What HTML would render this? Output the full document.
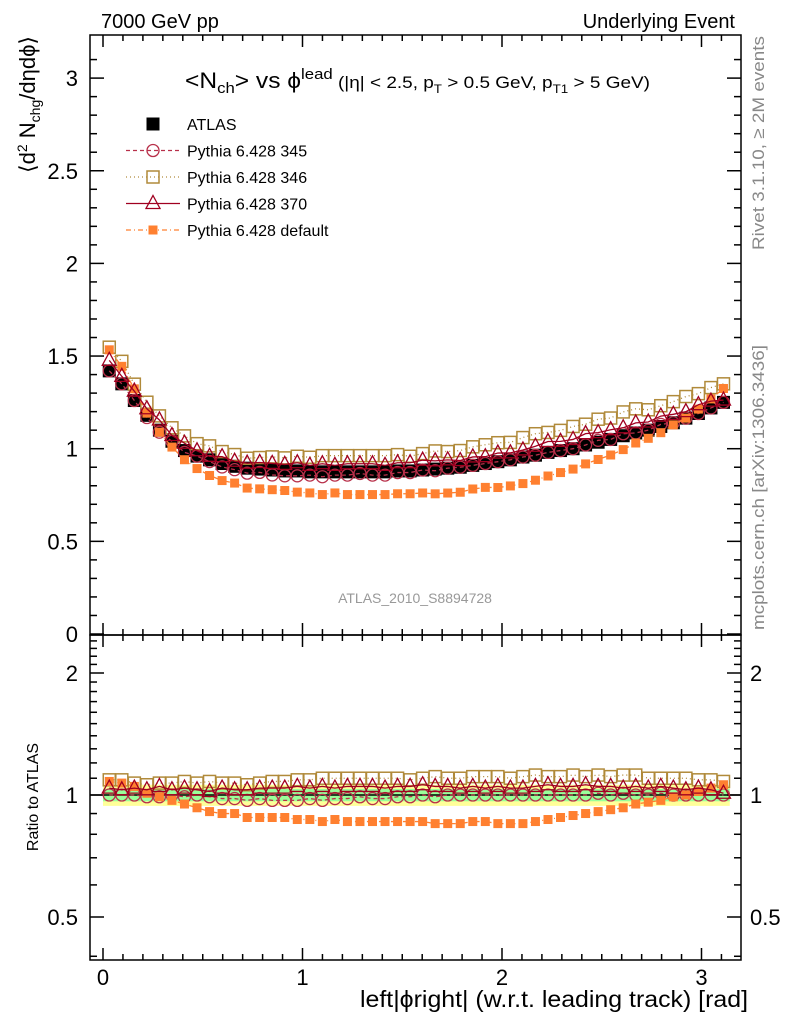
<!DOCTYPE html>
<html><head><meta charset="utf-8"><style>
body{margin:0;background:#fff;}
svg{display:block;font-family:"Liberation Sans",sans-serif;}
</style></head><body>
<svg id="c" width="786" height="1024" xmlns="http://www.w3.org/2000/svg"></svg>
<script>
const atlas=[1.42,1.35,1.26,1.18,1.10,1.04,0.99,0.96,0.94,0.92,0.905,0.895,0.89,0.885,0.88,0.88,0.875,0.875,0.875,0.875,0.875,0.875,0.875,0.88,0.88,0.885,0.89,0.895,0.90,0.91,0.92,0.93,0.94,0.955,0.965,0.98,0.99,1.00,1.02,1.035,1.05,1.07,1.085,1.10,1.12,1.14,1.165,1.19,1.22,1.25];
const ratio345=[1.0,1.0,1.0,0.99,0.99,1.0,0.99,1.0,0.99,0.98,0.98,0.97,0.98,0.97,0.97,0.97,0.98,0.97,0.98,0.98,0.99,0.98,0.98,0.99,0.99,1.0,0.99,1.0,1.0,1.0,1.0,1.0,1.0,1.0,1.0,1.0,1.0,1.0,1.0,1.01,1.0,1.01,1.0,1.0,1.01,1.0,1.0,1.0,1.0,1.0];
const ratio346=[1.09,1.09,1.07,1.06,1.07,1.07,1.08,1.07,1.08,1.07,1.07,1.06,1.07,1.08,1.08,1.09,1.09,1.10,1.10,1.10,1.10,1.10,1.10,1.10,1.09,1.10,1.11,1.10,1.10,1.11,1.11,1.11,1.10,1.11,1.12,1.11,1.11,1.12,1.11,1.12,1.11,1.12,1.12,1.10,1.10,1.10,1.10,1.09,1.09,1.08];
const ratio370=[1.04,1.03,1.04,1.03,1.05,1.03,1.04,1.03,1.02,1.04,1.03,1.03,1.04,1.04,1.04,1.05,1.04,1.05,1.04,1.05,1.05,1.05,1.04,1.05,1.05,1.06,1.05,1.05,1.04,1.05,1.04,1.05,1.04,1.04,1.05,1.06,1.05,1.05,1.06,1.05,1.05,1.04,1.05,1.04,1.05,1.04,1.03,1.04,1.03,1.01];
const ratioDef=[1.08,1.07,1.05,1.01,0.99,0.97,0.95,0.93,0.91,0.90,0.90,0.88,0.88,0.88,0.88,0.87,0.87,0.86,0.87,0.86,0.86,0.86,0.86,0.86,0.86,0.86,0.85,0.85,0.85,0.86,0.86,0.85,0.85,0.85,0.86,0.87,0.88,0.89,0.90,0.91,0.92,0.93,0.95,0.96,0.97,0.99,1.00,1.02,1.04,1.06];
const bandOuter=0.06, bandInner=0.035;
const xTicks=[0,1,2,3], yTicks=[0,0.5,1,1.5,2,2.5,3], rTicks=[0.5,1,2];

const NS="http://www.w3.org/2000/svg", svg=document.getElementById('c');
function el(t,a,p){const e=document.createElementNS(NS,t);for(const k in a)e.setAttribute(k,a[k]);(p||svg).appendChild(e);return e;}
const L=90,R=741,T=35,M=635,B=960;
const X=v=>103+199.5*v, Y=v=>634-185.3*v, RY=r=>795-122*Math.log2(r);
const N=atlas.length, xc=i=>(i+0.5)*Math.PI/N;

const band=el('g',{});

el('rect',{x:X(0),y:RY(1+bandOuter),width:X(Math.PI)-X(0),height:RY(1-bandOuter)-RY(1+bandOuter),fill:'#ffff99'},band);
el('rect',{x:X(0),y:RY(1+bandInner),width:X(Math.PI)-X(0),height:RY(1-bandInner)-RY(1+bandInner),fill:'#99ff99'},band);
el('line',{x1:L,x2:R,y1:RY(1),y2:RY(1),stroke:'#000','stroke-width':1.5},band);

const fr=el('g',{fill:'none',stroke:'#000','stroke-width':1.5});

el('rect',{x:L,y:T,width:R-L,height:M-T},fr);el('rect',{x:L,y:M,width:R-L,height:B-M},fr);
for(let v=0;v<=3.15;v+=0.1){const maj=Math.abs(v-Math.round(v))<1e-6;const h=maj?12:6;const x=X(v);
 for(const [y0,d] of [[M,-1],[T,1],[B,-1],[M,1]]) el('line',{x1:x,x2:x,y1:y0,y2:y0+d*h},fr);}
for(let v=0;v<=3.2;v+=0.1){const maj=Math.abs(v*2-Math.round(v*2))<1e-6;const h=maj?14:7;const y=Y(v);if(y<T)continue;
 el('line',{x1:L,x2:L+h,y1:y,y2:y},fr);el('line',{x1:R,x2:R-h,y1:y,y2:y},fr);}
for(let v=0.4;v<=2.45;v+=0.1){const maj=rTicks.some(t=>Math.abs(t-v)<1e-6);const h=maj?14:7;const y=RY(v);if(y<M||y>B)continue;
 el('line',{x1:L,x2:L+h,y1:y,y2:y},fr);el('line',{x1:R,x2:R-h,y1:y,y2:y},fr);}

function txt(s,a,name){const t=el('text',a);t.textContent=s;return t;}
xTicks.forEach(v=>txt(v,{x:X(v),y:985,'font-size':22,'text-anchor':'middle'},'x-tick-label'));
yTicks.forEach(v=>txt(v,{x:78,y:Y(v)+8,'font-size':22,'text-anchor':'end'},'y-tick-label'));
rTicks.forEach(v=>{txt(v,{x:78,y:RY(v)+8,'font-size':22,'text-anchor':'end'},'ratio-tick-label');txt(v,{x:750,y:RY(v)+8,'font-size':22},'ratio-tick-label-right');});

function marker(g,type,x,y,col){
 if(type==='fsq')el('rect',{x:x-6.5,y:y-6.5,width:13,height:13,fill:col},g);
 else if(type==='ssq')el('rect',{x:x-4.5,y:y-4.5,width:9,height:9,fill:col},g);
 else if(type==='osq'){el('rect',{x:x-6,y:y-6,width:12,height:12,fill:'none',stroke:col,'stroke-width':1.5},g);}
 else if(type==='circ')el('circle',{cx:x,cy:y,r:6,fill:'none',stroke:col,'stroke-width':1.3},g);
 else if(type==='tri')el('path',{d:`M${x} ${y-8}L${x+7} ${y+5}L${x-7} ${y+5}Z`,fill:'none',stroke:col,'stroke-width':1.3},g);
}
const series=[
 {name:'pythia-346',r:ratio346,col:'#b08a3a',type:'osq',dash:'1,3'},
 {name:'pythia-345',r:ratio345,col:'#b8304a',type:'circ',dash:'4,3'},
 {name:'pythia-default',r:ratioDef,col:'#ff8030',type:'ssq',dash:'5,3,1,3'},
 {name:'pythia-370',r:ratio370,col:'#a00020',type:'tri',dash:''}];
const ga=el('g',{});
atlas.forEach((v,i)=>marker(ga,'fsq',X(xc(i)),Y(v),'#000'));
series.forEach(s=>{
 const g=el('g',{});
 const vals=atlas.map((a,i)=>a*s.r[i]);
 el('polyline',{points:vals.map((v,i)=>X(xc(i))+','+Y(v)).join(' '),fill:'none',stroke:s.col,'stroke-width':1.3,'stroke-dasharray':s.dash},g);
 vals.forEach((v,i)=>marker(g,s.type,X(xc(i)),Y(v),s.col));
 const gr=el('g',{});
 el('polyline',{points:s.r.map((v,i)=>X(xc(i))+','+RY(v)).join(' '),fill:'none',stroke:s.col,'stroke-width':1.3,'stroke-dasharray':s.dash},gr);
 s.r.forEach((v,i)=>marker(gr,s.type,X(xc(i)),RY(v),s.col));
});

const leg=[['ATLAS','fsq','#000',''],['Pythia 6.428 345','circ','#b8304a','4,3'],['Pythia 6.428 346','osq','#b08a3a','1,3'],['Pythia 6.428 370','tri','#a00020',''],['Pythia 6.428 default','ssq','#ff8030','5,3,1,3']];
leg.forEach((e,i)=>{const y=124+26.5*i;const g=el('g',{});
 if(i>0)el('line',{x1:126,x2:180,y1:y,y2:y,stroke:e[2],'stroke-width':1.3,'stroke-dasharray':e[3]},g);
 marker(g,e[1],153,y,e[2]);
 const t=el('text',{x:187,y:y+6,'font-size':16},g);t.textContent=e[0];});
</script>
<svg width="786" height="1024" style="position:absolute;left:0;top:0" font-family="Liberation Sans, sans-serif">
<text x="101" y="28" font-size="20">7000 GeV pp</text>
<text x="735" y="28" font-size="20" text-anchor="end">Underlying Event</text>
<text x="185" y="88" font-size="22" textLength="465" lengthAdjust="spacingAndGlyphs">&lt;N<tspan font-size="15" dy="5">ch</tspan><tspan dy="-5">&gt; vs ϕ</tspan><tspan font-size="15" dy="-9">lead</tspan><tspan font-size="17" dy="9"> (|η| &lt; 2.5, p</tspan><tspan font-size="12" dy="5">T</tspan><tspan font-size="17" dy="-5"> &gt; 0.5 GeV, p</tspan><tspan font-size="12" dy="5">T1</tspan><tspan font-size="17" dy="-5"> &gt; 5 GeV)</tspan></text>
<text x="415" y="603" font-size="14" fill="#999" text-anchor="middle">ATLAS_2010_S8894728</text>
<text transform="translate(35,36) rotate(-90)" font-size="22" text-anchor="end">⟨d<tspan font-size="14" dy="-8">2</tspan><tspan dy="8"> N</tspan><tspan font-size="14" dy="5">chg</tspan><tspan dy="-5">/dηdϕ⟩</tspan></text>
<text transform="translate(38,797) rotate(-90)" font-size="16" text-anchor="middle">Ratio to ATLAS</text>
<text x="360" y="1007" font-size="23" textLength="388" lengthAdjust="spacingAndGlyphs">left|ϕright| (w.r.t. leading track) [rad]</text>
<text transform="translate(764,36) rotate(-90)" font-size="17" fill="#888" text-anchor="end" textLength="214" lengthAdjust="spacingAndGlyphs">Rivet 3.1.10, ≥ 2M events</text>
<text transform="translate(764,345) rotate(-90)" font-size="17" fill="#888" text-anchor="end" textLength="285" lengthAdjust="spacingAndGlyphs">mcplots.cern.ch [arXiv:1306.3436]</text>
</svg>
</body></html>
